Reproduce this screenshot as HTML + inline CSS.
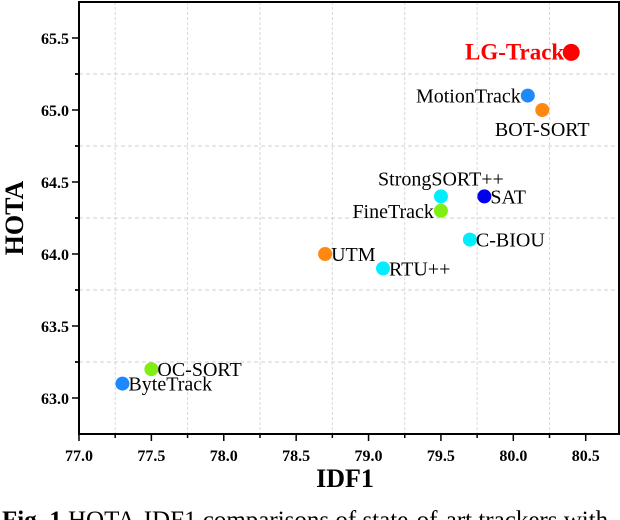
<!DOCTYPE html>
<html><head><meta charset="utf-8"><style>
body{margin:0;background:#fff;width:620px;height:520px;overflow:hidden}
svg{display:block;font-family:"Liberation Serif",serif}
</style></head><body>
<svg id="chart" width="620" height="520" viewBox="0 0 620 520"></svg>
<script>
const trackers=["LG-Track","MotionTrack","BOT-SORT","StrongSORT++","SAT","FineTrack","C-BIOU","UTM","RTU++","OC-SORT","ByteTrack"];
const idf1Values=[80.4,80.1,80.2,79.5,79.8,79.5,79.7,78.7,79.1,77.5,77.3];
const hotaValues=[65.4,65.1,65.0,64.4,64.4,64.3,64.1,64.0,63.9,63.2,63.1];
const xTickLabels=["77.0","77.5","78.0","78.5","79.0","79.5","80.0","80.5"];
const yTickLabels=["63.0","63.5","64.0","64.5","65.0","65.5"];
const colors=["#ff0000","#1e88ff","#ff8811","#00eeff","#0000ee","#80ee11","#00eeff","#ff8811","#00eeff","#80ee11","#1e88ff"];
const labelPlace=["left","left","below","above","right","left","right","right","right","right","right"];
const ns="http://www.w3.org/2000/svg";
const svg=document.getElementById('chart');
const L=79,R=619,T=2,B=434,xMin=77.0,xMax=80.73,yMin=62.75,yMax=65.75;
const xs=v=>L+(v-xMin)/(xMax-xMin)*(R-L);
const ys=v=>B-(v-yMin)/(yMax-yMin)*(B-T);
function el(tag,attrs,parent){const e=document.createElementNS(ns,tag);for(const k in attrs)e.setAttribute(k,attrs[k]);(parent||svg).appendChild(e);return e;}
for(let v=77.25;v<xMax;v+=0.5){const g=el('line',{x1:xs(v),x2:xs(v),y1:T,y2:B,stroke:'#d8d8d8','stroke-dasharray':'3,2','stroke-width':1});

}
for(let v=63.25;v<yMax;v+=0.5){const g=el('line',{x1:L,x2:R,y1:ys(v),y2:ys(v),stroke:'#d0d0d0','stroke-dasharray':'4,3','stroke-width':1});

}
const frame=el('rect',{x:L,y:T,width:R-L,height:B-T,fill:'none',stroke:'#000','stroke-width':2});


xTickLabels.forEach(t=>{const v=parseFloat(t),x=xs(v);
el('line',{x1:x,x2:x,y1:B,y2:B+7,stroke:'#000','stroke-width':1.5});
const tx=el('text',{x:x,y:B+27,'text-anchor':'middle','font-size':16,'font-weight':'bold'});tx.textContent=t;


if(v+0.25<xMax)el('line',{x1:xs(v+0.25),x2:xs(v+0.25),y1:B,y2:B+4,stroke:'#000','stroke-width':1.5});});
yTickLabels.forEach(t=>{const v=parseFloat(t),y=ys(v);
el('line',{x1:L-7,x2:L,y1:y,y2:y,stroke:'#000','stroke-width':1.5});
const tx=el('text',{x:L-10,y:y+6,'text-anchor':'end','font-size':16,'font-weight':'bold'});tx.textContent=t;


[v-0.25,v+0.25].forEach(m=>{if(m>yMin&&m<yMax)el('line',{x1:L-4,x2:L,y1:ys(m),y2:ys(m),stroke:'#000','stroke-width':1.5});});});
const xt=el('text',{x:345,y:487,'text-anchor':'middle','font-size':26,'font-weight':'bold'});xt.textContent='IDF1';


const yt=el('text',{x:0,y:0,transform:'translate(23,218) rotate(-90)','text-anchor':'middle','font-size':26,'font-weight':'bold'});yt.textContent='HOTA';


trackers.forEach((n,i)=>{const x=xs(idf1Values[i]),y=ys(hotaValues[i]);const big=i===0;
const c=el('circle',{cx:x,cy:y,r:big?8.5:7,fill:colors[i]});


let a={'font-size':big?23:20};if(big){a['font-weight']='bold';a.fill='#ff0000';}
const p=labelPlace[i];
if(p==='left'){a.x=x-7;a.y=y+7;a['text-anchor']='end';}
else if(p==='right'){a.x=x+6;a.y=y+7;}
else if(p==='below'){a.x=x;a.y=y+26;a['text-anchor']='middle';}
else {a.x=x;a.y=y-11;a['text-anchor']='middle';}
const t=el('text',a);t.textContent=n;

});
const cap=el('text',{x:2,y:528,'font-size':25});cap.innerHTML='<tspan font-weight="bold">Fig. 1</tspan> HOTA-IDF1 comparisons of state-of-art trackers with';


</script>
</body></html>
